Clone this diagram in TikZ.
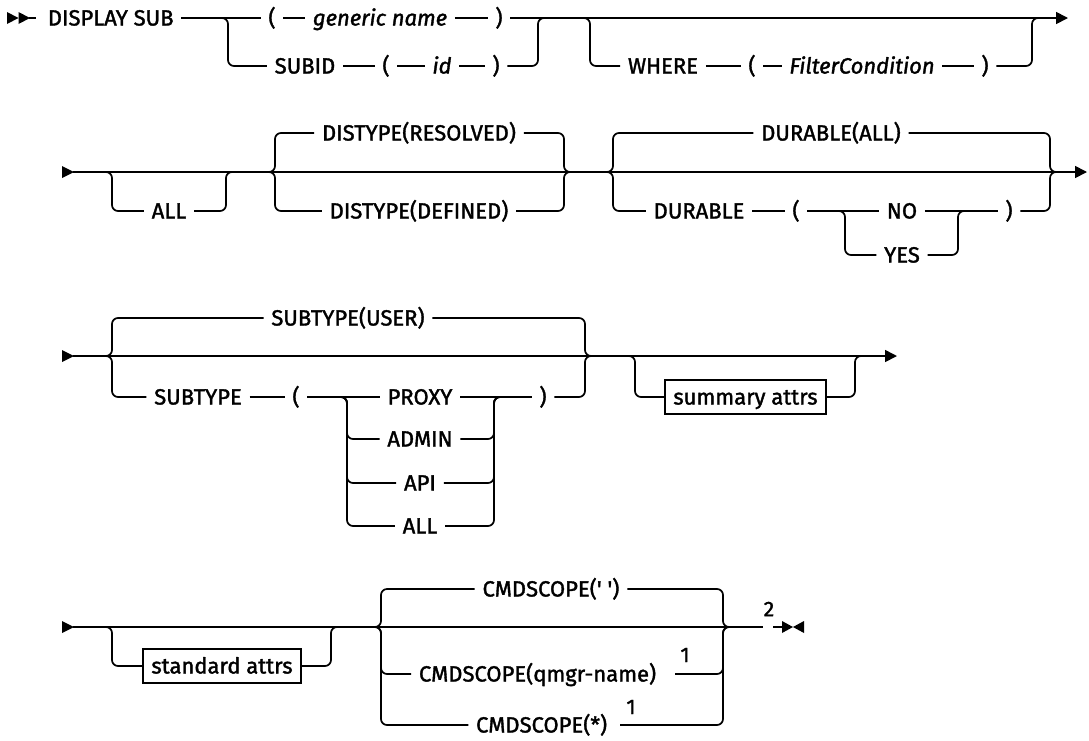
\documentclass[tikz,border=0pt]{standalone}
\usepackage{fontspec}
\setmainfont{Fira Sans}[FakeBold=1.6]
\usetikzlibrary{arrows.meta}
\newcommand{\rrfont}{\fontsize{22}{25}\selectfont}
\begin{document}
\begin{tikzpicture}[x=1pt,y=-1pt,line width=1.7pt,
  tk/.style={inner xsep=7pt,inner ysep=0pt,text height=15pt,text depth=0pt,font=\rrfont},
  itk/.style={tk,font=\rrfont\itshape},
  sbox/.style={draw,line width=1.3pt,inner xsep=8pt,minimum height=34pt,text height=15pt,text depth=0pt,font=\rrfont},
  fn/.style={inner sep=0pt,font=\fontsize{21}{23}\selectfont},
  rc/.style={rounded corners=6pt},
  arr/.style={-{Triangle[length=12pt,width=12pt]}}]
\useasboundingbox (0,0) rectangle (1089,740);

% ---------------- Row 1 ----------------
\fill (7,12) -- (18.5,18) -- (7,24) -- cycle;
\fill (18.5,12) -- (30,18) -- (18.5,24) -- cycle;
\coordinate (s1) at (29,18);
\coordinate (s1b) at (36,18);
\draw (s1) -- (s1b);
\node[tk,anchor=west] (ds) at (40,18) {DISPLAY SUB};
\node[tk] (p1) at (272,18) {(};
\node[itk] (gn) at (380,18) {generic name};
\node[tk] (p2) at (499,18) {)};
\coordinate (e1) at (1068,18);
\draw (ds) -- (p1);
\draw (p1) -- (gn);
\draw (gn) -- (p2);
\draw[arr] (p2) -- (e1);
% SUBID branch
\coordinate (c1a) at (218,18);
\coordinate (c1b) at (228,18);
\coordinate (c1c) at (228,66);
\node[tk] (sid) at (305,66) {SUBID};
\node[tk] (p3) at (386,66) {(};
\node[itk] (idn) at (442,66) {id};
\node[tk] (p4) at (496,66) {)};
\coordinate (c1d) at (538,66);
\coordinate (c1e) at (538,18);
\coordinate (c1f) at (548,18);
\draw[rc] (c1a) -- (c1b) -- (c1c) -- (sid.west);
\draw (sid) -- (p3);
\draw (p3) -- (idn);
\draw (idn) -- (p4);
\draw[rc] (p4.east) -- (c1d) -- (c1e) -- (c1f);
% WHERE branch
\coordinate (w1) at (580,18);
\coordinate (w2) at (590,18);
\coordinate (w3) at (590,66);
\node[tk] (wh) at (663,66) {WHERE};
\node[tk] (p5) at (752,66) {(};
\node[itk] (fc) at (862,66) {FilterCondition};
\node[tk] (p6) at (985,66) {)};
\coordinate (w4) at (1032,66);
\coordinate (w5) at (1032,18);
\coordinate (w6) at (1042,18);
\draw[rc] (w1) -- (w2) -- (w3) -- (wh.west);
\draw (wh) -- (p5);
\draw (p5) -- (fc);
\draw (fc) -- (p6);
\draw[rc] (p6.east) -- (w4) -- (w5) -- (w6);

% ---------------- Row 2 ----------------
\fill (62,166) -- (74,172) -- (62,178) -- cycle;
\coordinate (s2) at (73,172);
\coordinate (e2) at (1087,172);
\draw[arr] (s2) -- (e2);
% ALL optional
\coordinate (o1a) at (102,172);
\coordinate (o1b) at (112,172);
\coordinate (o1c) at (112,211);
\node[tk] (all1) at (169,211) {ALL};
\coordinate (o1d) at (226,211);
\coordinate (o1e) at (226,172);
\coordinate (o1f) at (236,172);
\draw[rc] (o1a) -- (o1b) -- (o1c) -- (all1.west);
\draw[rc] (all1.east) -- (o1d) -- (o1e) -- (o1f);
% DISTYPE choice
\coordinate (d1a) at (265,172);
\coordinate (d1b) at (275,172);
\coordinate (d1c) at (275,133);
\coordinate (d1d) at (275,211);
\node[tk] (dres) at (419,133) {DISTYPE(RESOLVED)};
\node[tk] (ddef) at (419,211) {DISTYPE(DEFINED)};
\coordinate (d1e) at (564,133);
\coordinate (d1f) at (564,211);
\coordinate (d1g) at (564,172);
\coordinate (d1h) at (574,172);
\draw[rc] (d1a) -- (d1b) -- (d1c) -- (dres.west);
\draw[rc] (dres.east) -- (d1e) -- (d1g) -- (d1h);
\draw[rc] (d1a) -- (d1b) -- (d1d) -- (ddef.west);
\draw[rc] (ddef.east) -- (d1f) -- (d1g) -- (d1h);
% DURABLE choice
\coordinate (u1a) at (603,172);
\coordinate (u1b) at (613,172);
\coordinate (u1c) at (613,133);
\coordinate (u1d) at (613,211);
\node[tk] (dall) at (831,133) {DURABLE(ALL)};
\node[tk] (dur) at (699,211) {DURABLE};
\node[tk] (p7) at (796,211) {(};
\node[tk] (no) at (902,211) {NO};
\node[tk] (yes) at (902,255) {YES};
\node[tk] (p8) at (1009,211) {)};
\coordinate (u1e) at (1050,133);
\coordinate (u1f) at (1050,211);
\coordinate (u1g) at (1050,172);
\coordinate (u1h) at (1060,172);
\draw[rc] (u1a) -- (u1b) -- (u1c) -- (dall.west);
\draw[rc] (dall.east) -- (u1e) -- (u1g) -- (u1h);
\draw[rc] (u1a) -- (u1b) -- (u1d) -- (dur.west);
\draw (dur) -- (p7);
\draw (p7) -- (no);
\draw (no) -- (p8);
\draw[rc] (p8.east) -- (u1f) -- (u1g) -- (u1h);
\coordinate (n1a) at (835,211);
\coordinate (n1b) at (845,211);
\coordinate (n1c) at (845,255);
\coordinate (n1d) at (958,255);
\coordinate (n1e) at (958,211);
\coordinate (n1f) at (968,211);
\draw[rc] (n1a) -- (n1b) -- (n1c) -- (yes.west);
\draw[rc] (yes.east) -- (n1d) -- (n1e) -- (n1f);

% ---------------- Row 3 ----------------
\fill (62,350) -- (74,356) -- (62,362) -- cycle;
\coordinate (s3) at (73,356);
\coordinate (e3) at (897,356);
\draw[arr] (s3) -- (e3);
% SUBTYPE choice
\coordinate (t1a) at (102,356);
\coordinate (t1b) at (112,356);
\coordinate (t1c) at (112,318);
\coordinate (t1d) at (112,397);
\node[tk] (user) at (348,318) {SUBTYPE(USER)};
\node[tk] (stp) at (198,397) {SUBTYPE};
\node[tk] (p9) at (296,397) {(};
\node[tk] (proxy) at (420,397) {PROXY};
\node[tk] (admin) at (420,439) {ADMIN};
\node[tk] (api) at (420,483) {API};
\node[tk] (all2) at (420,526) {ALL};
\node[tk] (p10) at (543,397) {)};
\coordinate (t1e) at (585,318);
\coordinate (t1f) at (585,397);
\coordinate (t1g) at (585,356);
\coordinate (t1h) at (595,356);
\draw[rc] (t1a) -- (t1b) -- (t1c) -- (user.west);
\draw[rc] (user.east) -- (t1e) -- (t1g) -- (t1h);
\draw[rc] (t1a) -- (t1b) -- (t1d) -- (stp.west);
\draw (stp) -- (p9);
\draw (p9) -- (proxy);
\draw (proxy) -- (p10);
\draw[rc] (p10.east) -- (t1f) -- (t1g) -- (t1h);
% inner choice
\coordinate (k1a) at (337,397);
\coordinate (k1b) at (347,397);
\coordinate (k1c) at (347,439);
\coordinate (k1d) at (347,483);
\coordinate (k1e) at (347,526);
\coordinate (k2c) at (494,439);
\coordinate (k2d) at (494,483);
\coordinate (k2e) at (494,526);
\coordinate (k2b) at (494,397);
\coordinate (k2a) at (504,397);
\draw[rc] (k1a) -- (k1b) -- (k1c) -- (admin.west);
\draw[rc] (k1a) -- (k1b) -- (k1d) -- (api.west);
\draw[rc] (k1a) -- (k1b) -- (k1e) -- (all2.west);
\draw[rc] (admin.east) -- (k2c) -- (k2b) -- (k2a);
\draw[rc] (api.east) -- (k2d) -- (k2b) -- (k2a);
\draw[rc] (all2.east) -- (k2e) -- (k2b) -- (k2a);
% summary attrs optional
\coordinate (m1a) at (625,356);
\coordinate (m1b) at (635,356);
\coordinate (m1c) at (635,397);
\node[sbox,minimum width=161pt] (sum) at (745.5,397) {summary attrs};
\coordinate (m1d) at (855,397);
\coordinate (m1e) at (855,356);
\coordinate (m1f) at (865,356);
\draw[rc] (m1a) -- (m1b) -- (m1c) -- (sum.west);
\draw[rc] (sum.east) -- (m1d) -- (m1e) -- (m1f);

% ---------------- Row 4 ----------------
\fill (62,621) -- (74,627) -- (62,633) -- cycle;
\coordinate (s4) at (73,627);
\coordinate (g1) at (763,627);
\coordinate (g2) at (773,627);
\coordinate (g3) at (782,627);
\draw (s4) -- (g1);
\draw (g2) -- (g3);
\node[fn] (n2) at (769,609) {2};
\fill (782,621) -- (793,627) -- (782,633) -- cycle;
\fill (804,621) -- (793,627) -- (804,633) -- cycle;
% standard attrs optional
\coordinate (q1a) at (102,627);
\coordinate (q1b) at (112,627);
\coordinate (q1c) at (112,666);
\node[sbox,minimum width=158pt] (std) at (222,666) {standard attrs};
\coordinate (q1d) at (331,666);
\coordinate (q1e) at (331,627);
\coordinate (q1f) at (341,627);
\draw[rc] (q1a) -- (q1b) -- (q1c) -- (std.west);
\draw[rc] (std.east) -- (q1d) -- (q1e) -- (q1f);
% CMDSCOPE choice
\coordinate (r1a) at (371,627);
\coordinate (r1b) at (381,627);
\coordinate (r1c) at (381,589);
\coordinate (r1d) at (381,674);
\coordinate (r1e) at (381,725);
\node[tk] (cs1) at (551,589) {CMDSCOPE(\textquotesingle\ \textquotesingle)};
\node[tk,anchor=east] (cs2) at (664,674) {CMDSCOPE(qmgr-name)};
\node[tk,anchor=east] (cs3) at (615,725) {CMDSCOPE(*)};
\coordinate (f1) at (675,674);
\coordinate (f2) at (620,725);
\node[fn] (n1a) at (685,655) {1};
\node[fn] (n1b) at (631,707) {1};
\coordinate (r2c) at (723,589);
\coordinate (r2d) at (723,674);
\coordinate (r2e) at (723,725);
\coordinate (r2b) at (723,627);
\coordinate (r2a) at (733,627);
\draw[rc] (r1a) -- (r1b) -- (r1c) -- (cs1.west);
\draw[rc] (r1a) -- (r1b) -- (r1d) -- (cs2.west);
\draw[rc] (r1a) -- (r1b) -- (r1e) -- (cs3.west);
\draw[rc] (cs1.east) -- (r2c) -- (r2b) -- (r2a);
\draw[rc] (f1) -- (r2d) -- (r2b) -- (r2a);
\draw[rc] (f2) -- (r2e) -- (r2b) -- (r2a);
\end{tikzpicture}
\end{document}
